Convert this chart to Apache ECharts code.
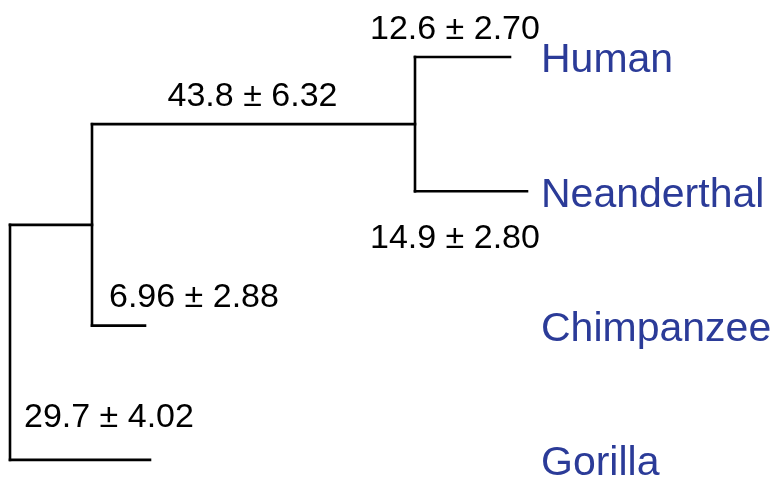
<!DOCTYPE html>
<html>
<head>
<meta charset="utf-8">
<script src="https://cdn.jsdelivr.net/npm/echarts@6/dist/echarts.min.js"></script>
<style>
  html, body { margin: 0; padding: 0; background: #fff; }
  #main { width: 775px; height: 483px; }
</style>
</head>
<body>
<div id="main"></div>
<script>
// tree data: leaves sit on rows, inner nodes sit midway between their children
var leaves = ["Human", "Neanderthal", "Chimpanzee", "Gorilla"];
var leafTipX = [510, 527, 145, 150];
var innerNodes = ["HN", "HNC", "root"];
var innerX = [415, 92, 10];
var parents = { Human: "HN", Neanderthal: "HN", HN: "HNC", Chimpanzee: "HNC", HNC: "root", Gorilla: "root" };
var branchLabels = {
  Human: "12.6 ± 2.70",
  Neanderthal: "14.9 ± 2.80",
  HN: "43.8 ± 6.32",
  Chimpanzee: "6.96 ± 2.88",
  Gorilla: "29.7 ± 4.02"
};

(function () {
  var myChart = echarts.init(document.getElementById("main"));

  // work out node positions (x = tree position, y = row)
  var pos = {};
  leaves.forEach(function (n, i) { pos[n] = { x: leafTipX[i], y: i }; });
  innerNodes.forEach(function (n, i) {
    var kids = Object.keys(parents).filter(function (k) { return parents[k] === n; });
    var ys = kids.map(function (k) { return pos[k].y; });
    pos[n] = { x: innerX[i], y: (Math.min.apply(null, ys) + Math.max.apply(null, ys)) / 2 };
  });

  // elbow branches: vertical part at the parent, then across to the child
  var branches = [];
  innerNodes.forEach(function (n) {
    var kids = Object.keys(parents).filter(function (k) { return parents[k] === n; });
    var ys = kids.map(function (k) { return pos[k].y; });
    branches.push({ coords: [[pos[n].x, Math.min.apply(null, ys)], [pos[n].x, Math.max.apply(null, ys)]] });
  });
  Object.keys(parents).forEach(function (c) {
    var p = pos[parents[c]];
    branches.push({ coords: [[p.x, pos[c].y], [pos[c].x, pos[c].y]] });
  });

  // where each branch label goes relative to its branch (style only)
  var labelPlace = {
    Human: { at: "start", offset: [-45, -27], align: "left" },
    Neanderthal: { at: "start", offset: [-45, 47], align: "left" },
    HN: { at: "mid", offset: [-1, -28], align: "center" },
    Chimpanzee: { at: "start", offset: [17, -28], align: "left" },
    Gorilla: { at: "start", offset: [14, -42], align: "left" }
  };
  var branchText = Object.keys(branchLabels).map(function (c) {
    var p = pos[parents[c]];
    var pl = labelPlace[c];
    var x = pl.at === "mid" ? (p.x + pos[c].x) / 2 : p.x;
    return {
      value: [x, pos[c].y],
      label: { formatter: branchLabels[c], offset: pl.offset, align: pl.align }
    };
  });

  var leafText = leaves.map(function (n) {
    return { value: [541, pos[n].y], label: { formatter: n } };
  });

  var option = {
    animation: false,
    grid: { left: 0, right: 0, top: 0, bottom: 0 },
    xAxis: { type: "value", min: 0, max: 775, show: false },
    yAxis: { type: "value", inverse: true, min: -0.4244, max: 3.172, show: false },
    series: [
      {
        type: "lines",
        coordinateSystem: "cartesian2d",
        polyline: true,
        silent: true,
        lineStyle: { color: "#000", width: 2.6, opacity: 1, cap: "square" },
        data: branches
      },
      {
        type: "scatter",
        symbolSize: 0,
        silent: true,
        itemStyle: { opacity: 1 },
        label: {
          show: true,
          position: "inside",
          verticalAlign: "middle",
          color: "#000",
          fontSize: 34,
          fontFamily: "Liberation Sans, Arial, sans-serif"
        },
        data: branchText
      },
      {
        type: "scatter",
        symbolSize: 0,
        silent: true,
        itemStyle: { opacity: 1 },
        label: {
          show: true,
          position: "inside",
          align: "left",
          verticalAlign: "middle",
          offset: [0, 4],
          color: "#2b3b98",
          fontSize: 41,
          fontFamily: "Liberation Sans, Arial, sans-serif"
        },
        data: leafText
      }
    ]
  };
  myChart.setOption(option);
  window.addEventListener("resize", function () {
    myChart.resize();
  });
})();
</script>
</body>
</html>
